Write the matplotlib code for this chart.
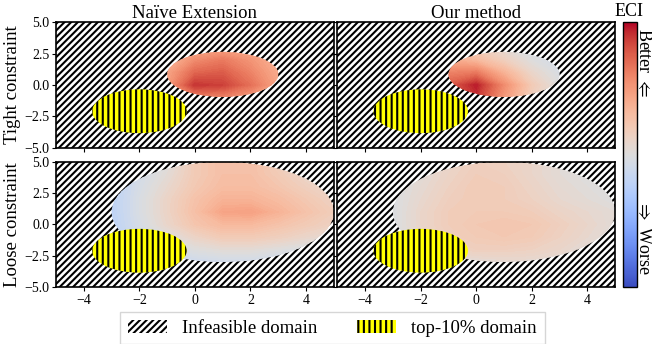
import numpy as np
import matplotlib
matplotlib.use("Agg")
import matplotlib.pyplot as plt
from matplotlib.patches import Ellipse, Rectangle, Patch
from matplotlib.colors import Normalize
from matplotlib.cm import ScalarMappable

plt.rcParams['font.family'] = ['Liberation Serif', 'DejaVu Serif']
plt.rcParams['mathtext.fontset'] = 'stix'
plt.rcParams['hatch.linewidth'] = 1.5

# ECI values (1 = best / dark red, 0 = worst / dark blue)
x_tight = [-1, 0, 1, 2, 3]
y_tight = [-1, 0, 1, 2, 3]
naive_tight = [
    [0.68, 0.80, 0.80, 0.74, 0.66],
    [0.74, 0.95, 0.93, 0.84, 0.72],
    [0.72, 0.86, 0.88, 0.80, 0.70],
    [0.66, 0.78, 0.82, 0.76, 0.68],
    [0.62, 0.70, 0.72, 0.70, 0.64],
]
ours_tight = [
    [0.85, 0.95, 0.75, 0.58, 0.50],
    [0.88, 0.98, 0.78, 0.60, 0.50],
    [0.80, 0.82, 0.68, 0.55, 0.48],
    [0.70, 0.66, 0.58, 0.50, 0.46],
    [0.62, 0.58, 0.52, 0.47, 0.45],
]

x_loose = [-3, -2, -1, 0, 1, 2, 3, 4, 5]
y_loose = [-3, -2, -1, 0, 1, 2, 3, 4, 5]
naive_loose = [
    [0.38, 0.40, 0.42, 0.44, 0.45, 0.45, 0.44, 0.43, 0.42],
    [0.38, 0.42, 0.46, 0.50, 0.52, 0.52, 0.50, 0.48, 0.46],
    [0.39, 0.45, 0.50, 0.56, 0.60, 0.60, 0.58, 0.55, 0.52],
    [0.39, 0.47, 0.55, 0.62, 0.66, 0.66, 0.63, 0.60, 0.57],
    [0.39, 0.48, 0.56, 0.64, 0.72, 0.73, 0.68, 0.63, 0.59],
    [0.39, 0.48, 0.56, 0.63, 0.68, 0.68, 0.65, 0.61, 0.57],
    [0.39, 0.47, 0.54, 0.61, 0.65, 0.65, 0.62, 0.58, 0.54],
    [0.39, 0.46, 0.52, 0.60, 0.64, 0.64, 0.60, 0.55, 0.50],
    [0.39, 0.45, 0.50, 0.60, 0.64, 0.64, 0.58, 0.52, 0.48],
]
ours_loose = [
    [0.48, 0.49, 0.50, 0.52, 0.53, 0.53, 0.52, 0.50, 0.49],
    [0.49, 0.52, 0.56, 0.58, 0.58, 0.57, 0.55, 0.52, 0.50],
    [0.49, 0.54, 0.58, 0.60, 0.61, 0.60, 0.57, 0.54, 0.51],
    [0.49, 0.55, 0.59, 0.61, 0.62, 0.61, 0.58, 0.55, 0.52],
    [0.49, 0.55, 0.59, 0.60, 0.60, 0.59, 0.56, 0.54, 0.52],
    [0.49, 0.54, 0.58, 0.60, 0.59, 0.57, 0.54, 0.52, 0.50],
    [0.49, 0.53, 0.57, 0.60, 0.59, 0.56, 0.53, 0.51, 0.50],
    [0.48, 0.52, 0.56, 0.59, 0.58, 0.55, 0.52, 0.50, 0.49],
    [0.48, 0.51, 0.55, 0.58, 0.57, 0.55, 0.52, 0.50, 0.49],
]

col_titles = ["Naïve Extension", "Our method"]
row_labels = ["Tight constraint", "Loose constraint"]

# feasible regions: (cx, cy, width, height)
feas_tight = (1.0, 0.85, 4.0, 3.6)
feas_loose = (1.0, 1.0, 8.0, 8.0)
top10 = (-2.0, -2.1, 3.4, 3.5)

cmap = plt.get_cmap('coolwarm')
norm = Normalize(0, 1)


def panel(ax, xs, ys, z, feas):
    ax.add_patch(Rectangle((-5, -5), 10, 10, facecolor='white', edgecolor='black',
                           hatch='/////', linewidth=0, zorder=0))
    X, Y = np.meshgrid(xs, ys)
    cs = ax.contourf(X, Y, np.array(z), levels=np.linspace(0, 1, 101), cmap=cmap, norm=norm, zorder=1)
    clip = Ellipse(feas[:2], feas[2], feas[3], transform=ax.transData)
    cs.set_clip_path(clip)
    ax.add_patch(Ellipse(top10[:2], top10[2], top10[3], facecolor='yellow', edgecolor='black',
                         hatch='|||', linewidth=0, zorder=2))
    ax.set_xlim(-5, 5)
    ax.set_ylim(-5, 5)
    ax.set_xticks([-4, -2, 0, 2, 4])
    ax.set_yticks([-5, -2.5, 0, 2.5, 5])
    ax.tick_params(labelsize=10, length=3, pad=2)
    for s in ax.spines.values():
        s.set_linewidth(1.2)


fig = plt.figure(figsize=(6.52, 3.44), dpi=100)
lefts = [0.086, 0.5175]
bottoms = [0.5712, 0.1657]
w, h = 0.426, 0.3634

data = [[naive_tight, ours_tight], [naive_loose, ours_loose]]
grids = [(x_tight, y_tight, feas_tight), (x_loose, y_loose, feas_loose)]

for r in range(2):
    for c in range(2):
        ax = fig.add_axes([lefts[c], bottoms[r], w, h])
        xs, ys, feas = grids[r]
        panel(ax, xs, ys, data[r][c], feas)
        if r == 0:
            ax.set_title(col_titles[c], fontsize=13.5, pad=2)
            ax.tick_params(labelbottom=False)
        if c == 0:
            ax.set_ylabel(row_labels[r], fontsize=13.5, labelpad=2)
        else:
            ax.tick_params(labelleft=False)

cax = fig.add_axes([0.9555, 0.1657, 0.0215, 0.769])
cb = fig.colorbar(ScalarMappable(norm=norm, cmap=cmap), cax=cax)
cb.set_ticks([])
cb.outline.set_linewidth(1.0)
fig.text(0.965, 0.968, "ECI", ha='center', va='center', fontsize=13)
fig.text(0.987, 0.82, r"Better $\Leftarrow$", rotation=270, ha='center', va='center', fontsize=13)
fig.text(0.987, 0.31, r"$\Rightarrow$ Worse", rotation=270, ha='center', va='center', fontsize=13)

handles = [Patch(facecolor='white', edgecolor='black', hatch='/////', linewidth=0),
           Patch(facecolor='yellow', edgecolor='black', hatch='|||', linewidth=0)]
fig.legend(handles, ["Infeasible domain", "top-10% domain"], loc='upper center',
           bbox_to_anchor=(0.51, 0.093), ncol=2, fontsize=13.5, fancybox=False,
           edgecolor='0.8', handlelength=2.1, handletextpad=0.8, columnspacing=2.1,
           borderaxespad=0)

fig.savefig("out.png", dpi=100)
